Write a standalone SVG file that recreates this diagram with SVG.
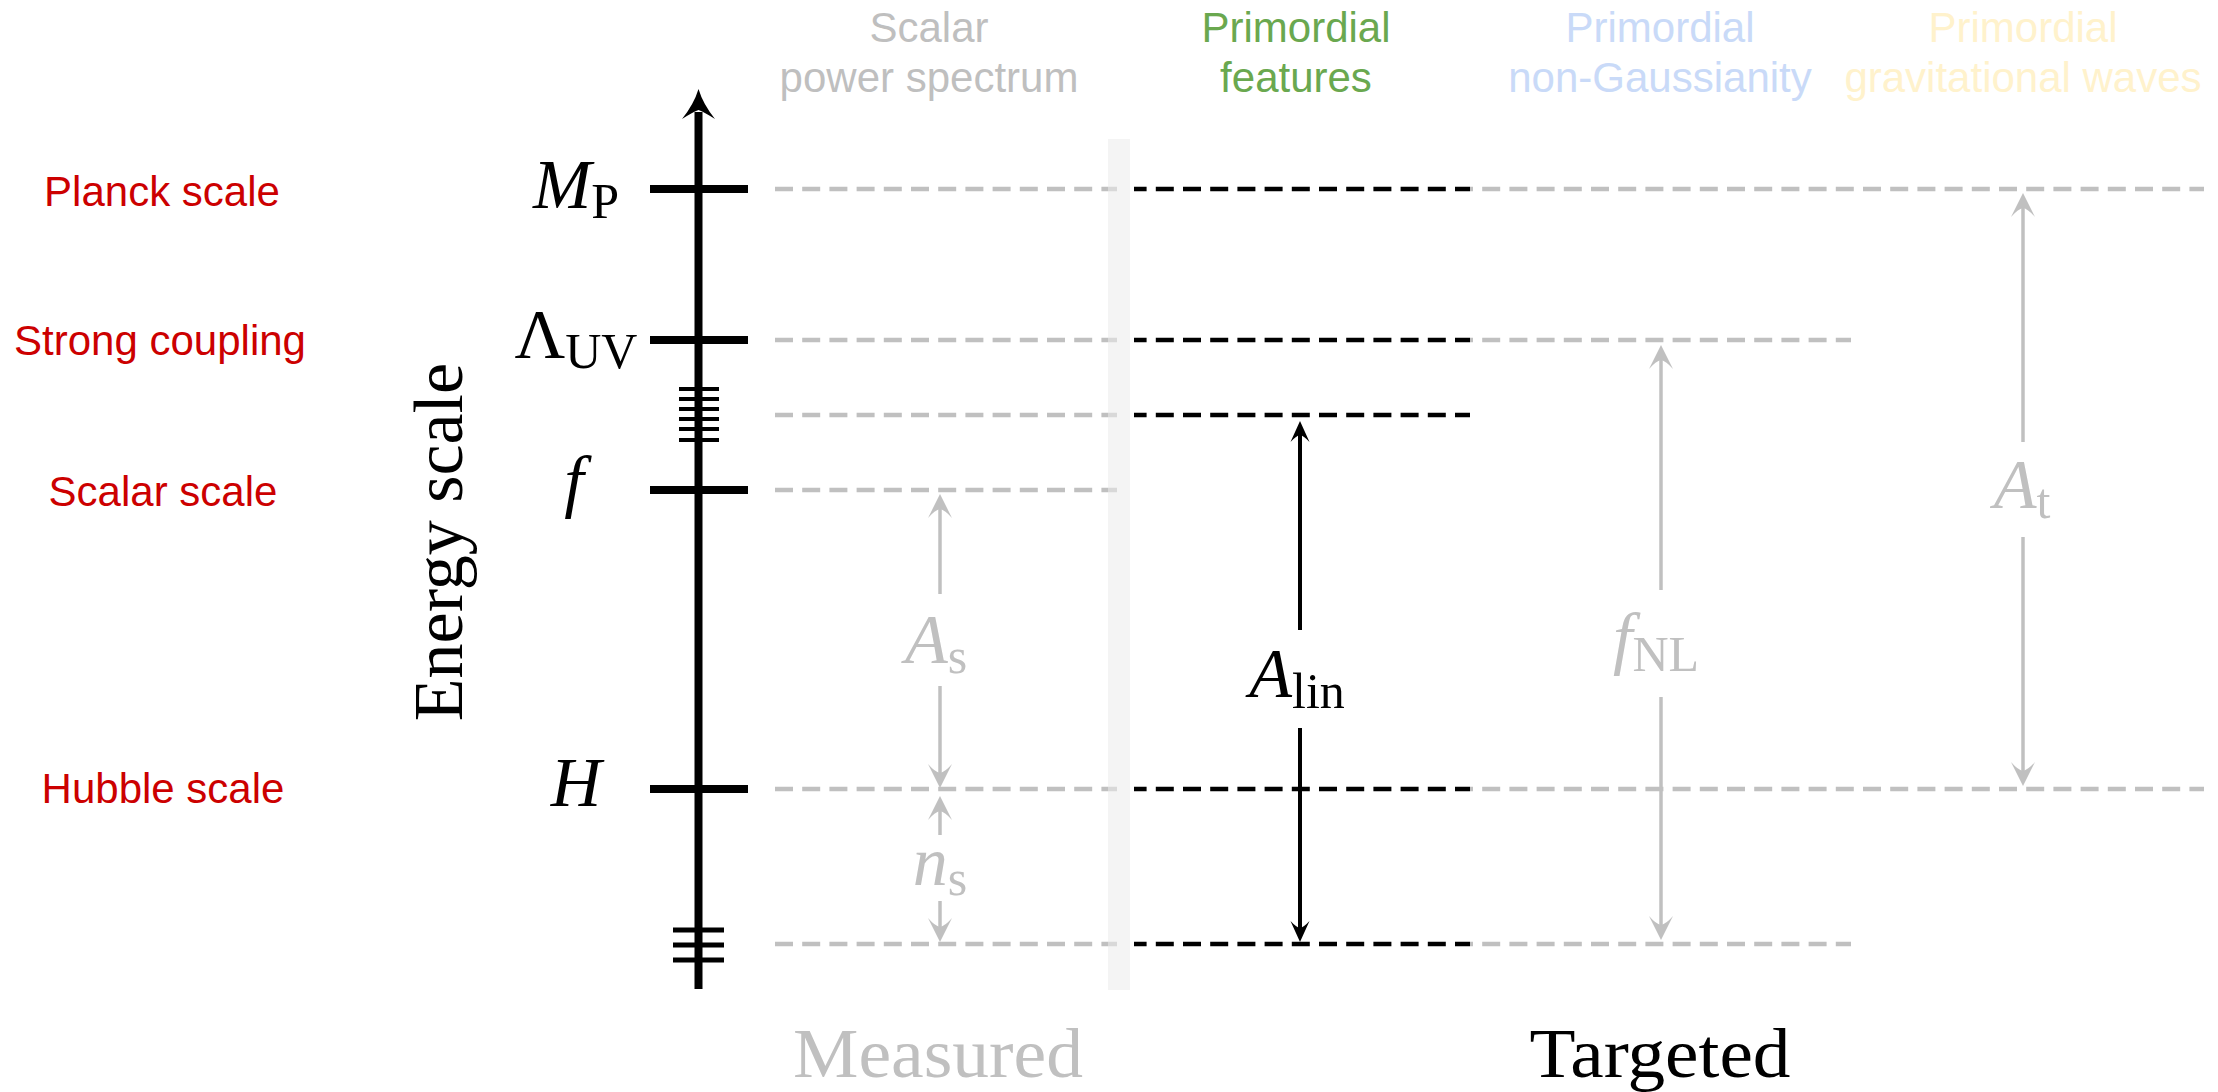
<svg xmlns="http://www.w3.org/2000/svg" width="2218" height="1092" viewBox="0 0 2218 1092">
<style>
.lbl{font-family:"Liberation Sans",Arial,sans-serif;font-size:42px;fill:#cc0000;text-anchor:middle}
.hdr{font-family:"Liberation Sans",Arial,sans-serif;font-size:42px;text-anchor:middle}
.math{font-family:"Liberation Serif","Times New Roman",serif;font-size:70px;text-anchor:middle}
.it{font-style:italic}
.sub{font-size:50px;font-style:normal}
.big{font-family:"Liberation Serif","Times New Roman",serif;font-size:70px;text-anchor:middle}
.g{fill:#c0c0c0}
.k{fill:#000000}
.dg{stroke:#c0c0c0;stroke-width:4.5;stroke-dasharray:18 9.2;fill:none}
.dk{stroke:#000000;stroke-width:4.5;stroke-dasharray:18 9.2;fill:none}
.ag{stroke:#c0c0c0;stroke-width:3.5;fill:none}
.ak{stroke:#000000;stroke-width:4;fill:none}
.tick{stroke:#000;stroke-width:8}
.st{stroke:#000;stroke-width:4}
.bt{stroke:#000;stroke-width:5}
</style>
<defs>
<clipPath id="clipGray"><rect x="0" y="0" width="1117" height="1092"/><rect x="1470" y="0" width="748" height="1092"/></clipPath>
<clipPath id="clipBlack"><rect x="1134" y="0" width="336" height="1092"/></clipPath>
<marker id="hg" markerWidth="40" markerHeight="40" markerUnits="userSpaceOnUse" refX="-14" refY="0" orient="auto-start-reverse" overflow="visible">
<path d="M0,0 L-24,-12 Q-16,-5 -15,0 Q-16,5 -24,12 Z" fill="#c0c0c0"/>
</marker>
<marker id="hk" markerWidth="40" markerHeight="40" markerUnits="userSpaceOnUse" refX="-13" refY="0" orient="auto-start-reverse" overflow="visible">
<path d="M0,0 L-21,-9.5 Q-15,-4 -14,0 Q-15,4 -21,9.5 Z" fill="#000000"/>
</marker>
</defs>
<rect x="0" y="0" width="2218" height="1092" fill="#ffffff"/>

<g id="connectors">
<g clip-path="url(#clipGray)">
<line class="dg" x1="775" y1="189" x2="2204" y2="189"/>
<line class="dg" x1="775" y1="340" x2="1851" y2="340"/>
<line class="dg" x1="775" y1="415" x2="1117" y2="415"/>
<line class="dg" x1="775" y1="490" x2="1117" y2="490"/>
<line class="dg" x1="775" y1="789" x2="2204" y2="789"/>
<line class="dg" x1="775" y1="944" x2="1851" y2="944"/>
</g>
<g clip-path="url(#clipBlack)">
<line class="dk" x1="775" y1="189" x2="1470" y2="189"/>
<line class="dk" x1="775" y1="340" x2="1470" y2="340"/>
<line class="dk" x1="775" y1="415" x2="1470" y2="415"/>
<line class="dk" x1="775" y1="789" x2="1470" y2="789"/>
<line class="dk" x1="775" y1="944" x2="1470" y2="944"/>
</g>
<line class="ag" x1="940" y1="508" x2="940" y2="594" marker-start="url(#hg)"/>
<line class="ag" x1="940" y1="686" x2="940" y2="774" marker-end="url(#hg)"/>
<line class="ag" x1="940" y1="810" x2="940" y2="835" marker-start="url(#hg)"/>
<line class="ag" x1="940" y1="901" x2="940" y2="928" marker-end="url(#hg)"/>
<line class="ak" x1="1300" y1="434" x2="1300" y2="630" marker-start="url(#hk)"/>
<line class="ak" x1="1300" y1="728" x2="1300" y2="929" marker-end="url(#hk)"/>
<line class="ag" x1="1661" y1="359" x2="1661" y2="590" marker-start="url(#hg)"/>
<line class="ag" x1="1661" y1="697" x2="1661" y2="926" marker-end="url(#hg)"/>
<line class="ag" x1="2023" y1="207" x2="2023" y2="442" marker-start="url(#hg)"/>
<line class="ag" x1="2023" y1="537" x2="2023" y2="772" marker-end="url(#hg)"/>
</g>

<g id="band">
<rect x="1108" y="139" width="22" height="851" fill="#ebebeb" fill-opacity="0.56"/>
</g>

<g id="axis">
<line x1="698.5" y1="112" x2="698.5" y2="989" stroke="#000" stroke-width="8"/>
<path d="M698.5,89 Q703,104 715,119 Q704,112 698.5,110 Q693,112 682,119 Q694,104 698.5,89 Z" fill="#000"/>
<line class="tick" x1="650" y1="189" x2="748" y2="189"/>
<line class="tick" x1="650" y1="340" x2="748" y2="340"/>
<line class="tick" x1="650" y1="490" x2="748" y2="490"/>
<line class="tick" x1="650" y1="789" x2="748" y2="789"/>
<line class="st" x1="679" y1="389" x2="719" y2="389"/>
<line class="st" x1="679" y1="399" x2="719" y2="399"/>
<line class="st" x1="679" y1="409" x2="719" y2="409"/>
<line class="st" x1="679" y1="419" x2="719" y2="419"/>
<line class="st" x1="679" y1="429" x2="719" y2="429"/>
<line class="st" x1="679" y1="440" x2="719" y2="440"/>
<line class="bt" x1="673" y1="930" x2="724" y2="930"/>
<line class="bt" x1="673" y1="945" x2="724" y2="945"/>
<line class="bt" x1="673" y1="960" x2="724" y2="960"/>
<text class="big k" transform="translate(462,542) rotate(-90)" x="0" y="0">Energy scale</text>
</g>

<g id="scale-labels">
<text class="lbl" x="162" y="206">Planck scale</text>
<text class="lbl" x="160" y="355">Strong coupling</text>
<text class="lbl" x="163" y="506">Scalar scale</text>
<text class="lbl" x="163" y="803">Hubble scale</text>
</g>

<g id="axis-symbols">
<text class="math k" x="576" y="208"><tspan class="it">M</tspan><tspan class="sub" dy="10">P</tspan></text>
<text class="math k" x="576" y="358">Λ<tspan class="sub" dy="10">UV</tspan></text>
<text class="math k it" x="574" y="504">f</text>
<text class="math k it" x="576" y="806">H</text>
</g>

<g id="headers">
<text class="hdr" x="929" y="42" fill="#bfbfbf">Scalar</text>
<text class="hdr" x="929" y="92" fill="#bfbfbf">power spectrum</text>
<text class="hdr" x="1296" y="42" fill="#6aa84f">Primordial</text>
<text class="hdr" x="1296" y="92" fill="#6aa84f">features</text>
<text class="hdr" x="1660" y="42" fill="#c9daf8">Primordial</text>
<text class="hdr" x="1660" y="92" fill="#c9daf8">non-Gaussianity</text>
<text class="hdr" x="2023" y="42" fill="#fff2cc">Primordial</text>
<text class="hdr" x="2023" y="92" fill="#fff2cc">gravitational waves</text>
</g>

<g id="quantity-labels">
<text class="math g" x="936" y="663"><tspan class="it">A</tspan><tspan class="sub" dy="10">s</tspan></text>
<text class="math g" x="940" y="885"><tspan class="it">n</tspan><tspan class="sub" dy="10">s</tspan></text>
<text class="math k" x="1297" y="697"><tspan class="it">A</tspan><tspan class="sub" dy="11">lin</tspan></text>
<text class="math g" x="1656" y="661"><tspan class="it">f</tspan><tspan class="sub" dy="10">NL</tspan></text>
<text class="math g" x="2022" y="508"><tspan class="it">A</tspan><tspan class="sub" dy="10">t</tspan></text>
</g>

<g id="footer">
<text class="big g" x="938" y="1077" textLength="290" lengthAdjust="spacingAndGlyphs">Measured</text>
<text class="big k" x="1660" y="1077" textLength="261" lengthAdjust="spacingAndGlyphs">Targeted</text>
</g>
</svg>
